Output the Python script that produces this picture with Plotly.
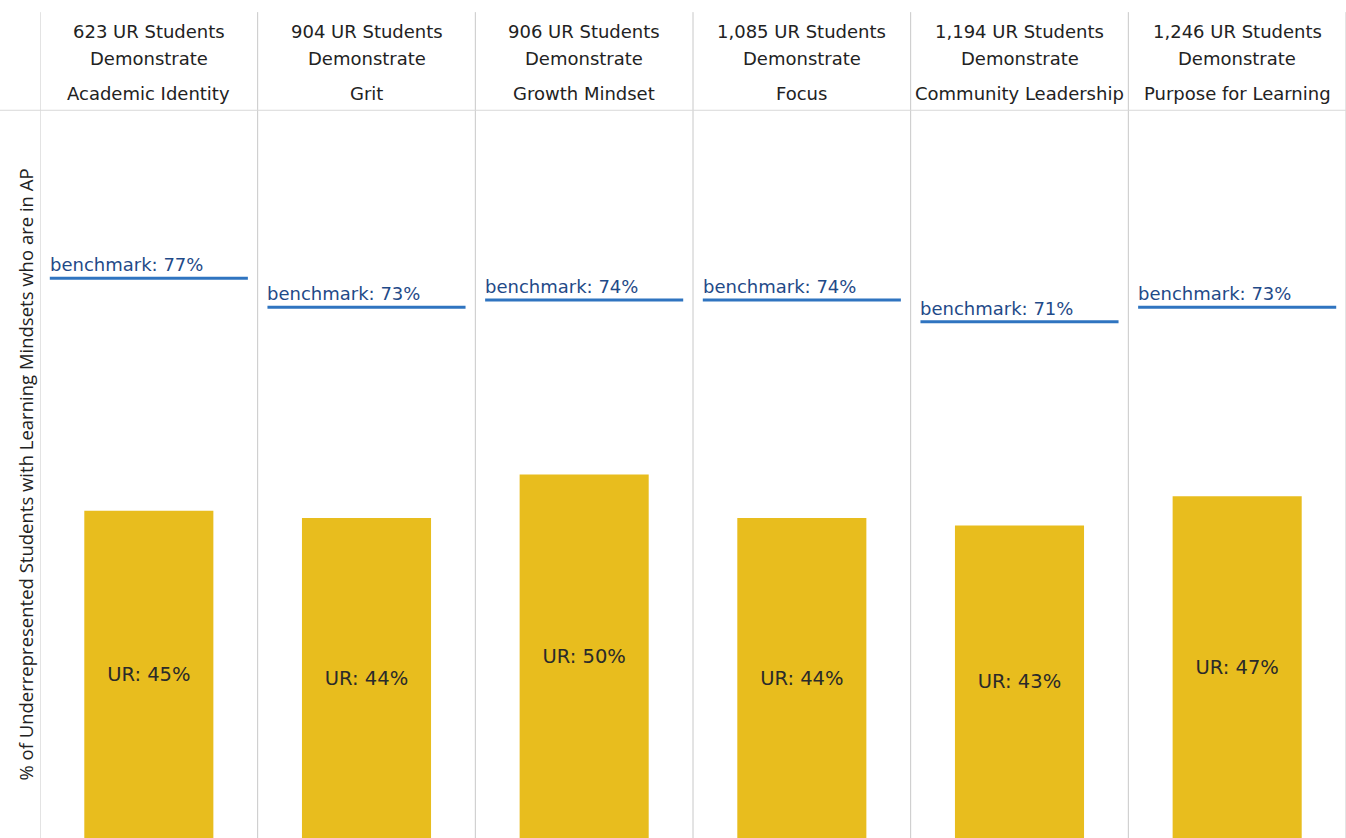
import plotly.graph_objects as go

mindsets = ["Academic Identity", "Grit", "Growth Mindset", "Focus",
            "Community Leadership", "Purpose for Learning"]
student_counts = ["623", "904", "906", "1,085", "1,194", "1,246"]
ur_pct = [45, 44, 50, 44, 43, 47]
benchmark_pct = [77, 73, 74, 74, 71, 73]

FONT = "DejaVu Sans"
BAR_COLOR = "#E8BD1E"
LINE_COLOR = "#2F74C0"
BENCH_TEXT = "#1F4A88"
GRID = "#C8C8C8"

x_idx = list(range(len(mindsets)))
half = 0.455

fig = go.Figure()
fig.add_trace(go.Bar(
    x=x_idx, y=ur_pct, width=0.593,
    marker=dict(color=BAR_COLOR, line=dict(width=0)),
    text=[f"UR: {v}%" for v in ur_pct],
    textposition="inside", insidetextanchor="middle",
    textfont=dict(family=FONT, size=19.5, color="#2a2a2a"),
    hoverinfo="skip", showlegend=False,
))

bx, by = [], []
for i, b in zip(x_idx, benchmark_pct):
    bx += [i - half, i + half, None]
    by += [b, b, None]
fig.add_trace(go.Scatter(x=bx, y=by, mode="lines",
                         line=dict(color=LINE_COLOR, width=3),
                         hoverinfo="skip", showlegend=False))

annotations = []
for i, (c, m, b) in enumerate(zip(student_counts, mindsets, benchmark_pct)):
    for txt, yp in ((f"{c} UR Students", 1.1087), ("Demonstrate", 1.0729), (m, 1.0234)):
        annotations.append(dict(x=i, y=yp, xref="x", yref="paper",
                                text=txt, showarrow=False,
                                xanchor="center", yanchor="middle",
                                font=dict(family=FONT, size=18, color="#222")))
    annotations.append(dict(x=i - half, y=b, xref="x", yref="y",
                            text=f"benchmark: {b}%", showarrow=False,
                            xanchor="left", yanchor="bottom", xshift=-2, yshift=1,
                            font=dict(family=FONT, size=18, color=BENCH_TEXT)))

shapes = []
for k in range(len(mindsets) + 1):
    shapes.append(dict(type="line", xref="x", yref="paper",
                       x0=k - 0.5, x1=k - 0.5, y0=0, y1=1.136,
                       line=dict(color=GRID, width=1)))
shapes.append(dict(type="line", xref="paper", yref="paper",
                   x0=-0.031, x1=1, y0=1.001, y1=1.001,
                   line=dict(color="#D8D8D8", width=1)))

fig.update_layout(
    width=1346, height=838,
    margin=dict(l=40, r=0, t=111, b=0),
    paper_bgcolor="white", plot_bgcolor="white",
    annotations=annotations, shapes=shapes,
    bargap=0.4,
    xaxis=dict(range=[-0.5, 5.5], showticklabels=False, showgrid=False,
               zeroline=False, showline=False, ticks=""),
    yaxis=dict(range=[0, 100], showticklabels=False, showgrid=False,
               zeroline=False, showline=False, ticks="",
               title=dict(text="% of Underrepresented Students with Learning Mindsets who are in AP",
                          font=dict(family="Open Sans", size=18.5, color="#222"),
                          standoff=0)),
)

fig.write_html("out.html")
